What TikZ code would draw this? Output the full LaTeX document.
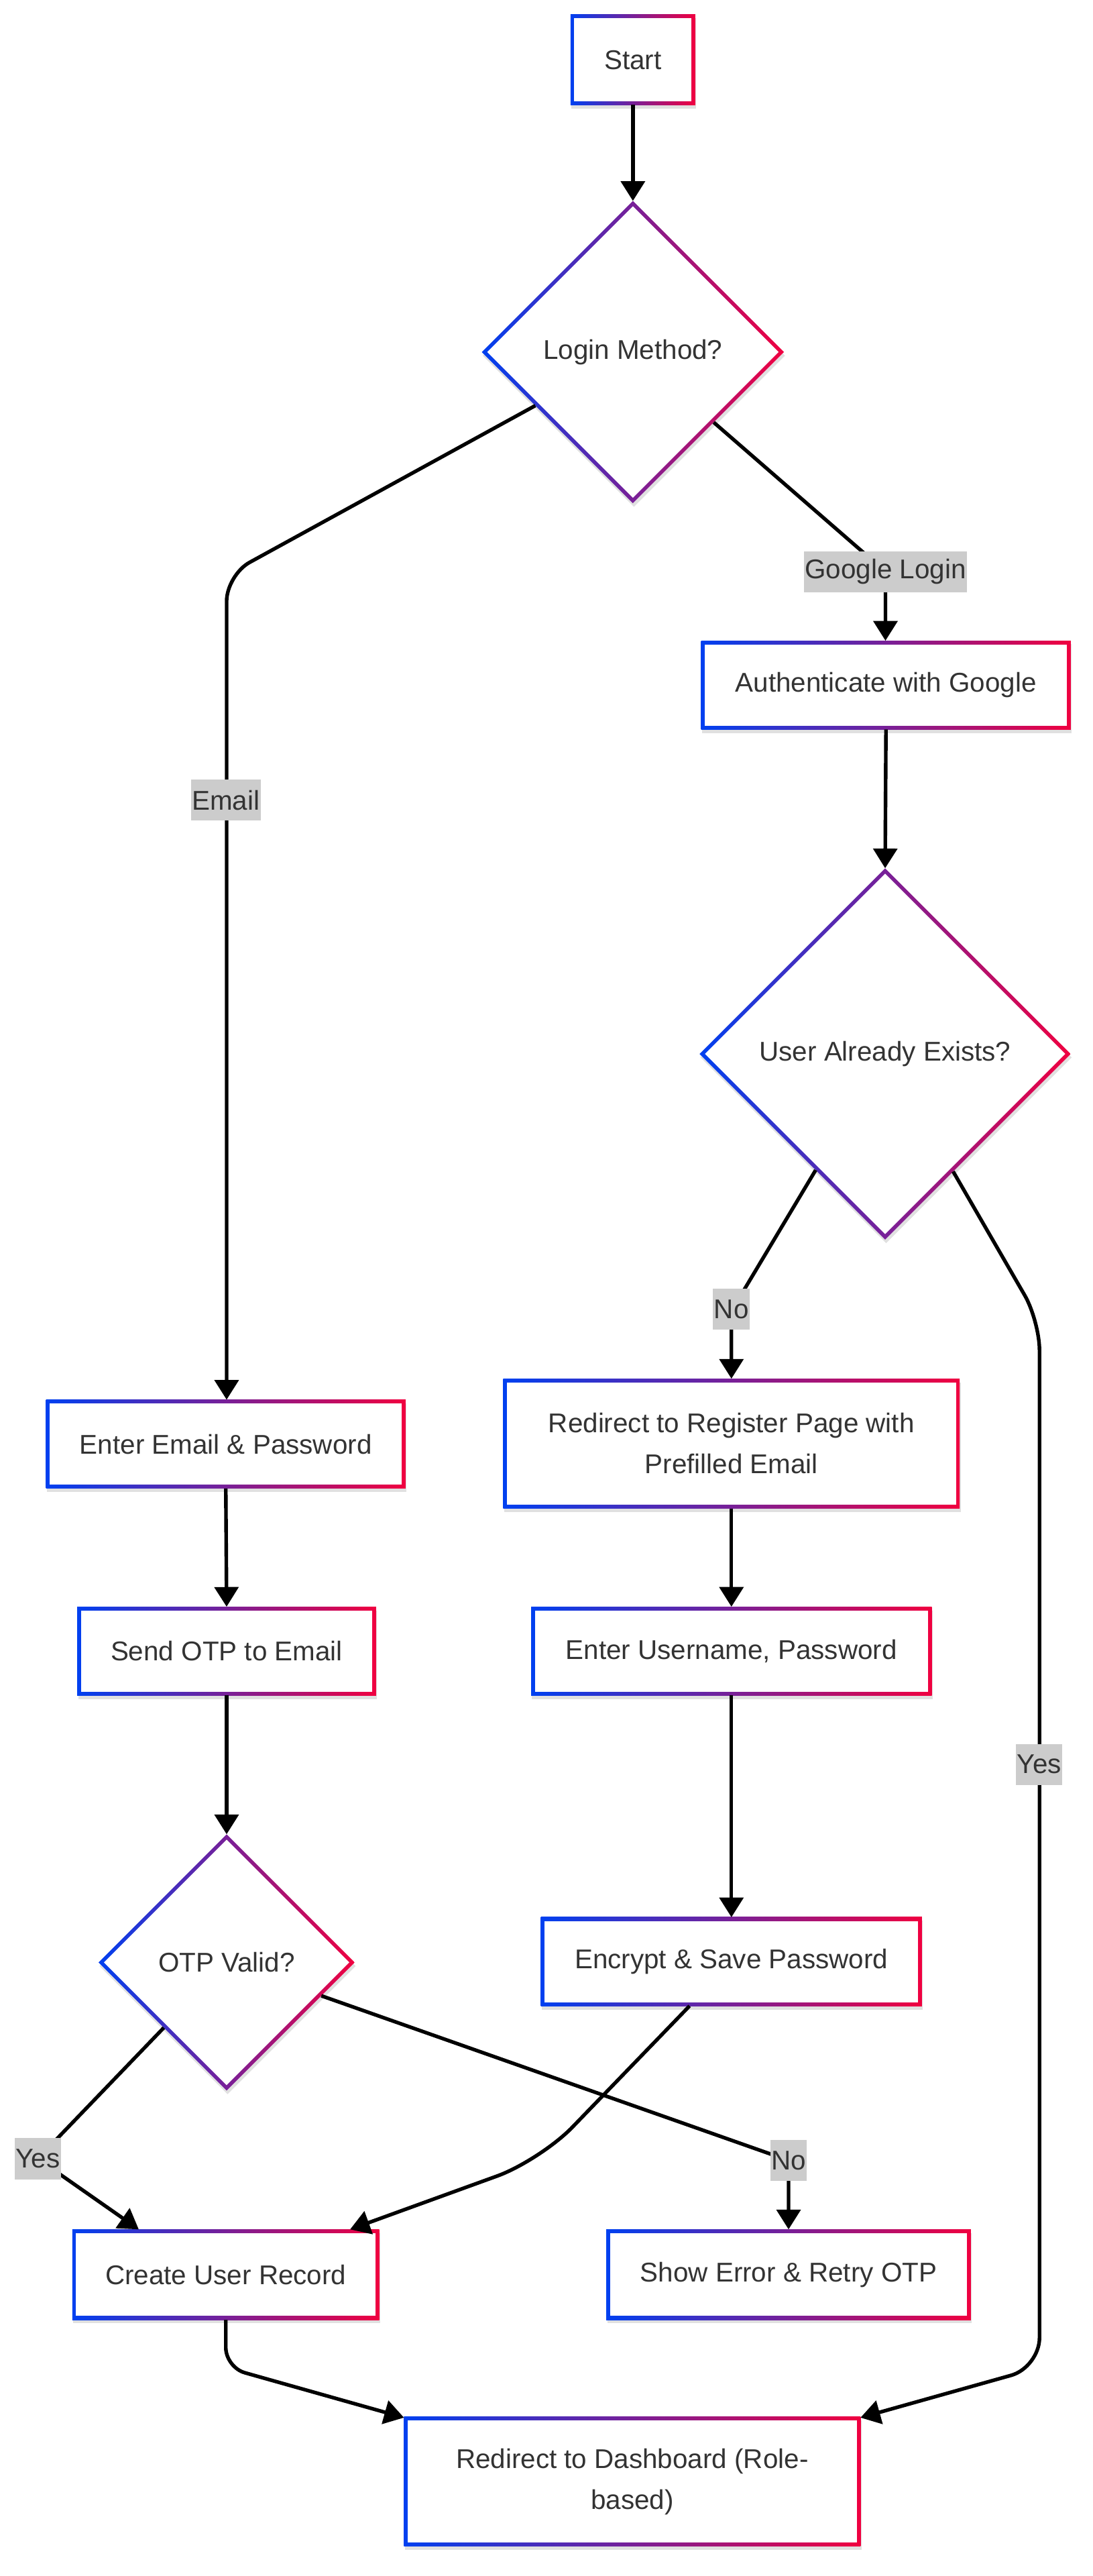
\documentclass[tikz,border=0pt]{standalone}
\usepackage{fontspec}
\setmainfont{Liberation Sans}
\usetikzlibrary{shapes.geometric,arrows.meta,shadows}
\definecolor{gblue}{RGB}{0,64,240}
\definecolor{gred}{RGB}{240,0,64}
\definecolor{txt}{HTML}{333333}
\definecolor{labgray}{HTML}{CCCCCC}
\tikzset{
  base/.style={inner sep=0pt, outer sep=0pt, text=txt,
    font=\fontsize{16.5}{25}\selectfont, align=center, fill=white,
    drop shadow={shadow xshift=0.6pt, shadow yshift=-2.2pt, opacity=0.12, fill=black}},
  procbox/.style={base, rectangle,
    path picture={
      \shade[left color=gblue, right color=gred]
        (path picture bounding box.south west) rectangle (path picture bounding box.north east);
      \fill[white] ([shift={(2.3pt,2.3pt)}]path picture bounding box.south west)
        rectangle ([shift={(-2.3pt,-2.3pt)}]path picture bounding box.north east);
    }},
  decision/.style={base, diamond, aspect=1,
    path picture={
      \shade[left color=gblue, right color=gred]
        (path picture bounding box.south west) rectangle (path picture bounding box.north east);
      \fill[white] ([xshift=3.3pt]path picture bounding box.west)
        -- ([yshift=-3.3pt]path picture bounding box.north)
        -- ([xshift=-3.3pt]path picture bounding box.east)
        -- ([yshift=3.3pt]path picture bounding box.south) -- cycle;
    }},
  conn/.style={draw=black, line width=2.2pt, -{Triangle[width=14.5pt,length=12pt]}},
  elabel/.style={fill=labgray, text=txt, font=\fontsize{16.5}{25}\selectfont,
    inner xsep=0.6pt, inner ysep=0pt, minimum height=25pt, outer sep=0pt}
}
\begin{document}
\begin{tikzpicture}[x=1pt,y=-1pt]
\fill[white] (0,0) rectangle (665.2,1568);
\useasboundingbox (0,0) rectangle (665.2,1568);

% nodes
\node[procbox, minimum width=76pt, minimum height=55pt] (start) at (385.4,36.4) {Start};
\node[decision, minimum width=184pt, minimum height=184pt] (login) at (385.4,214.3) {Login Method?};
\node[procbox, minimum width=225pt, minimum height=54pt] (auth) at (539.5,417) {Authenticate with Google};
\node[decision, minimum width=226pt, minimum height=226pt] (exists) at (539,641.5) {User Already Exists?};
\node[procbox, minimum width=278pt, minimum height=79pt] (register) at (445.4,878.7) {Redirect to Register Page with\\Prefilled Email};
\node[procbox, minimum width=219pt, minimum height=54pt] (email) at (137.5,879) {Enter Email \& Password};
\node[procbox, minimum width=182pt, minimum height=54pt] (sendotp) at (138,1005) {Send OTP to Email};
\node[procbox, minimum width=244pt, minimum height=54pt] (username) at (445.4,1005) {Enter Username, Password};
\node[decision, minimum width=156pt, minimum height=156pt] (otp) at (138,1194.5) {OTP Valid?};
\node[procbox, minimum width=232pt, minimum height=54pt] (encrypt) at (445.4,1194) {Encrypt \& Save Password};
\node[procbox, minimum width=187pt, minimum height=55pt] (create) at (137.5,1384.5) {Create User Record};
\node[procbox, minimum width=222pt, minimum height=55pt] (showerr) at (480.2,1384.5) {Show Error \& Retry OTP};
\node[procbox, minimum width=278pt, minimum height=79pt] (dash) at (385,1510.5) {Redirect to Dashboard (Role-\\based)};

% bend points
\coordinate (e1) at (138,350);
\coordinate (g1) at (539.2,348);
\coordinate (n1) at (445.4,798);
\coordinate (y1) at (633,804);
\coordinate (y1b) at (633,1441);
\coordinate (k1) at (329,1315);
\coordinate (v1) at (23,1314);
\coordinate (w1) at (480.2,1315);
\coordinate (c1) at (137.5,1441);

% connectors
\draw[conn] (start.south) -- (login.north);
\draw[conn, rounded corners=16pt] (login) -- (e1) -- (e1 |- email.north);
\draw[conn, rounded corners=10pt] (login) -- (g1) -- (g1 |- auth.north);
\draw[conn] (auth.south) -- (exists.north);
\draw[conn, rounded corners=8pt] (exists) -- (n1) -- (n1 |- register.north);
\draw[conn, rounded corners=18pt] (exists) -- (y1) -- (y1b) -- (dash);
\draw[conn] (email.south) -- (sendotp.north);
\draw[conn] (sendotp.south) -- (otp.north);
\draw[conn, rounded corners=6pt] (otp) -- (v1) -- ([xshift=-53pt]create.north);
\draw[conn, rounded corners=6pt] (otp) -- (w1) -- (w1 |- showerr.north);
\draw[conn] (register.south) -- (username.north);
\draw[conn] (username.south) -- (encrypt.north);
\draw[conn, rounded corners=28pt] ([xshift=-25.5pt]encrypt.south) -- (k1) -- (create);
\draw[conn, rounded corners=12pt] (create.south) -- (c1) -- (dash);

% edge labels
\node[elabel] (lemail) at (137.5,487) {Email};
\node[elabel] (lgoogle) at (539.2,348) {Google Login};
\node[elabel] (lno1) at (445.4,797) {No};
\node[elabel] (lyes1) at (632.8,1074) {Yes};
\node[elabel] (lyes2) at (23,1314) {Yes};
\node[elabel] (lno2) at (480.2,1315) {No};
\end{tikzpicture}
\end{document}
